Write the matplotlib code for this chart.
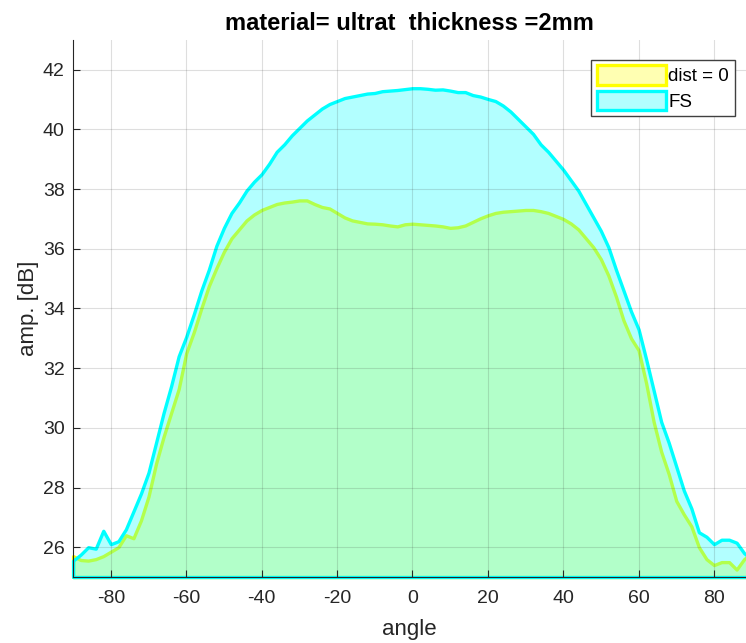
import numpy as np
import matplotlib
matplotlib.use('Agg')
import matplotlib.pyplot as plt

plt.rcParams['font.family'] = ['Liberation Sans', 'DejaVu Sans']
plt.rcParams['axes.unicode_minus'] = False

angle = np.arange(-90, 92, 2)

amp_fs = [25.55, 25.75, 26.0, 25.95, 26.55, 26.1, 26.2, 26.6, 27.2, 27.8,
          28.5, 29.5, 30.5, 31.4, 32.4, 33.05, 33.8, 34.6, 35.3, 36.1,
          36.7, 37.2, 37.55, 37.95, 38.25, 38.5, 38.85, 39.25, 39.5, 39.8,
          40.05, 40.3, 40.5, 40.7, 40.85, 40.95, 41.05, 41.1, 41.15, 41.2,
          41.22, 41.28, 41.3, 41.32, 41.35, 41.38, 41.38, 41.36, 41.33, 41.34,
          41.3, 41.25, 41.25, 41.15, 41.1, 41.02, 40.95, 40.8, 40.6, 40.35,
          40.1, 39.85, 39.5, 39.25, 38.95, 38.65, 38.3, 37.95, 37.5, 37.05,
          36.6, 36.05, 35.3, 34.6, 33.9, 33.3, 32.3, 31.25, 30.2, 29.5,
          28.7, 27.9, 27.3, 26.5, 26.35, 26.1, 26.25, 26.25, 26.15, 25.8,
          25.6]

amp_dist0 = [25.7, 25.57, 25.55, 25.6, 25.7, 25.85, 26.0, 26.4, 26.3, 26.9,
             27.7, 28.8, 29.7, 30.5, 31.3, 32.5, 33.2, 34.0, 34.75, 35.35,
             35.9, 36.35, 36.65, 36.95, 37.15, 37.3, 37.4, 37.5, 37.55, 37.58,
             37.62, 37.62, 37.5, 37.4, 37.35, 37.2, 37.05, 36.95, 36.9, 36.85,
             36.84, 36.82, 36.78, 36.75, 36.82, 36.84, 36.82, 36.8, 36.78, 36.75,
             36.7, 36.72, 36.78, 36.9, 37.02, 37.12, 37.2, 37.24, 37.26, 37.28,
             37.3, 37.3, 37.26, 37.2, 37.1, 37.0, 36.85, 36.65, 36.35, 36.05,
             35.65, 35.1, 34.4, 33.6, 33.0, 32.6, 31.5, 30.2, 29.2, 28.45,
             27.55, 27.1, 26.7, 26.0, 25.6, 25.4, 25.5, 25.5, 25.25, 25.6,
             25.8]

base = 25
text_col = '#262626'

fig = plt.figure(figsize=(7.46, 6.43), dpi=100)
ax = fig.add_axes([0.098, 0.1026, 0.902, 0.8354])

ax.fill_between(angle, base, amp_dist0, facecolor=(1, 1, 0, 0.3),
                edgecolor=(1, 1, 0), linewidth=2.4, label='dist = 0',
                clip_on=False)
ax.fill_between(angle, base, amp_fs, facecolor=(0, 1, 1, 0.3),
                edgecolor=(0, 1, 1), linewidth=2.4, label='FS',
                clip_on=False)

ax.set_xlim(-90, 88.5)
ax.set_ylim(25, 43)
ax.set_xticks(np.arange(-80, 81, 20))
ax.set_yticks(np.arange(26, 43, 2))

ax.set_axisbelow(False)
ax.grid(True, color=text_col, alpha=0.15, linewidth=0.8)
ax.tick_params(direction='in', length=5, labelsize=14, colors=text_col,
               width=0.8)
ax.tick_params(axis='x', pad=9)
ax.tick_params(axis='y', pad=6)
for side in ['top', 'right']:
    ax.spines[side].set_visible(False)
for side in ['left', 'bottom']:
    ax.spines[side].set_color(text_col)
    ax.spines[side].set_linewidth(0.8)

ax.set_xlabel('angle', fontsize=16, color=text_col, labelpad=9)
ax.set_ylabel('amp. [dB]', fontsize=16, color=text_col, labelpad=3)
ax.set_title('material= ultrat  thickness =2mm', fontsize=17,
             fontweight='bold', pad=7)

leg = ax.legend(loc='upper right', bbox_to_anchor=(0.983, 0.963), fontsize=13.5,
                fancybox=False, framealpha=1, edgecolor='#404040',
                handlelength=3.7, handleheight=1.2, handletextpad=0.1,
                borderpad=0.3, labelspacing=0.3, borderaxespad=0)
leg.get_frame().set_linewidth(1.0)

fig.savefig('out.png', dpi=100)
